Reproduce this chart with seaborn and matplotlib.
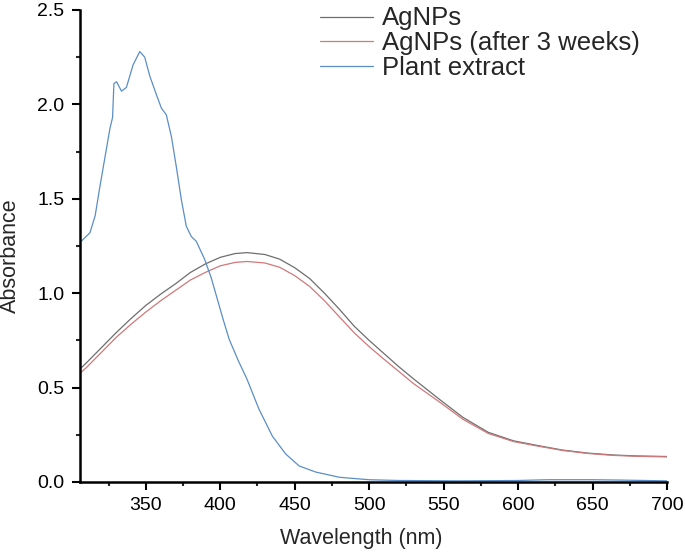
import matplotlib
matplotlib.use("Agg")
import matplotlib.pyplot as plt
from matplotlib.ticker import MultipleLocator
import seaborn as sns
import pandas as pd

# ---- data ----
agnps_wl = [302, 310, 320, 330, 340, 350, 360, 370, 380, 390, 400, 410, 418, 430, 440, 450,
            460, 470, 480, 490, 500, 510, 520, 530, 547, 563, 580, 597, 614, 630, 647, 664,
            680, 700]
agnps_abs = [0.57, 0.63, 0.71, 0.79, 0.865, 0.935, 0.995, 1.05, 1.11, 1.155, 1.19, 1.21, 1.215,
             1.205, 1.18, 1.135, 1.078, 1.0, 0.915, 0.825, 0.75, 0.68, 0.61, 0.545, 0.439, 0.342,
             0.263, 0.218, 0.192, 0.169, 0.153, 0.143, 0.138, 0.135]
agnps3w_abs = [0.55, 0.605, 0.685, 0.765, 0.835, 0.90, 0.96, 1.015, 1.07, 1.11, 1.145, 1.163,
               1.168, 1.16, 1.137, 1.093, 1.036, 0.96, 0.875, 0.79, 0.717, 0.65, 0.585, 0.52,
               0.425, 0.332, 0.257, 0.214, 0.189, 0.167, 0.151, 0.141, 0.136, 0.133]
plant_wl = [302, 306, 312.5, 316, 319.2, 322.6, 326, 327.7, 328.6, 330.4, 333.7, 337, 341.5,
            346, 349.3, 352.7, 357.2, 360.5, 363.8, 367.2, 370.5, 373.9, 377.2, 380.6, 383.9,
            389.5, 394, 398, 402, 406, 412, 418, 426, 435, 444, 453, 464, 480, 500, 520, 560,
            600, 620, 650, 670, 700]
plant_abs = [1.24, 1.27, 1.32, 1.41, 1.565, 1.72, 1.875, 1.93, 2.11, 2.12, 2.07, 2.09, 2.21,
             2.28, 2.25, 2.15, 2.05, 1.98, 1.945, 1.83, 1.67, 1.495, 1.355, 1.30, 1.275, 1.18,
             1.08, 0.97, 0.86, 0.756, 0.645, 0.544, 0.386, 0.243, 0.148, 0.085, 0.053, 0.025,
             0.012, 0.008, 0.006, 0.008, 0.012, 0.012, 0.01, 0.006]

labels = ["AgNPs", "AgNPs (after 3 weeks)", "Plant extract"]
colors = ["#6e6e6e", "#d0787a", "#5b8ec6"]
x_ticks = [350, 400, 450, 500, 550, 600, 650, 700]
y_ticks = [0.0, 0.5, 1.0, 1.5, 2.0, 2.5]

sns.set_style("ticks")
plt.rcParams["font.family"] = ["Liberation Sans", "DejaVu Sans"]

L, R, T, B = 79.5, 667, 10, 482
fig = plt.figure(figsize=(6.85, 5.52), dpi=100)
ax = fig.add_axes([L / 685, (552 - B) / 552, (R - L) / 685, (B - T) / 552])

series = [(agnps_wl, agnps_abs), (agnps_wl, agnps3w_abs), (plant_wl, plant_abs)]
for (xs, ys), lab, col in zip(series, labels, colors):
    df = pd.DataFrame({"Wavelength": xs, "Absorbance": ys})
    sns.lineplot(data=df, x="Wavelength", y="Absorbance", ax=ax, color=col,
                 linewidth=0.9, label=lab, sort=False, estimator=None)

ax.set_xlim(305.5, 700)
ax.set_ylim(0, 2.5)
ax.set_xticks(x_ticks)
ax.set_yticks(y_ticks)
ax.set_yticklabels([f"{v:.1f}" for v in y_ticks])
ax.xaxis.set_minor_locator(MultipleLocator(25))
ax.yaxis.set_minor_locator(MultipleLocator(0.25))
ax.tick_params(which="major", direction="out", length=6, width=1.5, labelsize=14,
               colors="black", pad=5)
ax.tick_params(which="minor", direction="out", length=3, width=1.5)
for s in ["top", "right"]:
    ax.spines[s].set_visible(False)
for s in ["left", "bottom"]:
    ax.spines[s].set_linewidth(1.8)
    ax.spines[s].set_color("black")

ax.set_xlabel("Wavelength (nm)", fontsize=15.5)
ax.set_ylabel("Absorbance", fontsize=15.5)
ax.xaxis.set_label_coords((361.5 - L) / (R - L), (B - 528) / (B - T))
ax.yaxis.set_label_coords((21 - L) / (R - L), (B - 256) / (B - T))

ax.legend(loc="upper left", bbox_to_anchor=(320 / 685, 1 - 6.5 / 552),
          bbox_transform=fig.transFigure, frameon=False, fontsize=18.5,
          handlelength=2.06, handletextpad=0.35, labelspacing=0.03,
          borderpad=0, borderaxespad=0)

fig.savefig("out.png", dpi=100)
